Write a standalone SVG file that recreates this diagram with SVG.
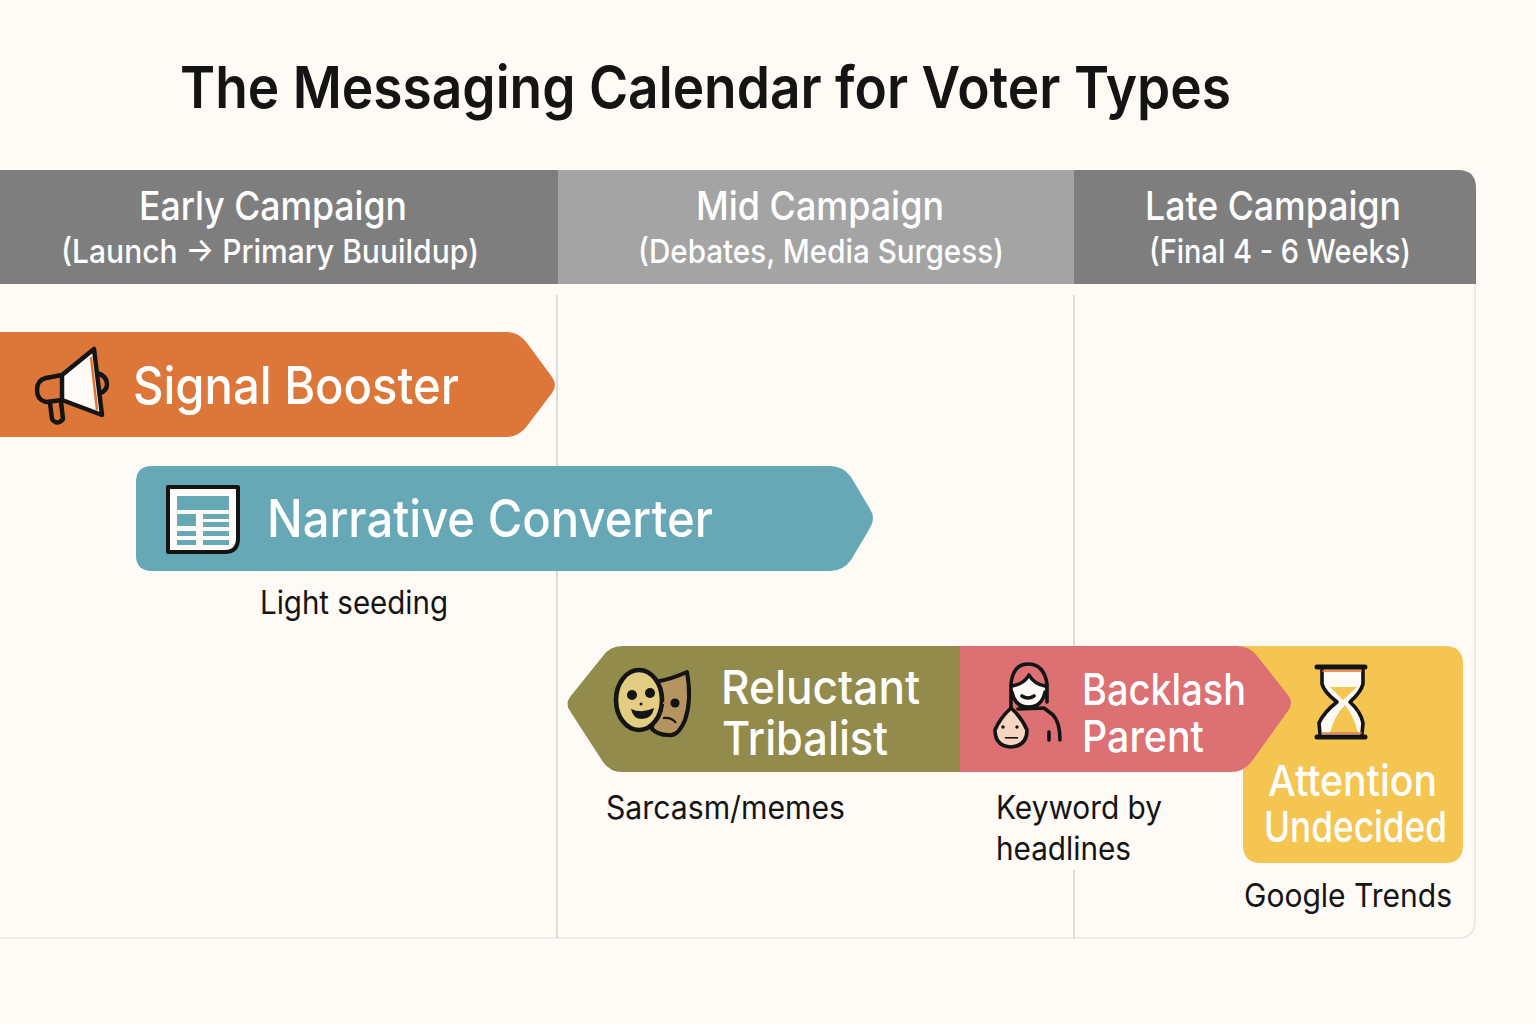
<svg xmlns="http://www.w3.org/2000/svg" width="1536" height="1024" viewBox="0 0 1536 1024">
<style>
text{font-family:Inter,"Liberation Sans",sans-serif}
.title{font-size:58px;font-weight:600;fill:#141414}
.h1{font-size:40px;font-weight:500;fill:#fff;text-anchor:middle}
.h2{font-size:33px;font-weight:500;fill:#fff;text-anchor:middle}
.lab{font-weight:500;fill:#fff}
.note{font-size:32px;fill:#141414}
.ln{fill:none;stroke:#141414;stroke-width:4.5;stroke-linecap:round;stroke-linejoin:round}
.grid{stroke:#bfbeba;stroke-width:1;fill:none}
</style>
<rect width="1536" height="1024" fill="#fefbf6"/>
<text class="title" x="180" y="108" textLength="1051" lengthAdjust="spacingAndGlyphs">The Messaging Calendar for Voter Types</text>

<g id="grid-frame">
<path d="M0 938H1458Q1475 938 1475 921V284" fill="none" stroke="#e2e0db" stroke-width="1.2"/>
<path class="grid" d="M557 295V938M1074 295V646M1074 870V938"/>
</g>

<g id="phase-early">
<rect x="0" y="170" width="558" height="114" fill="#7e7e7e"/>
<text class="h1" x="273" y="220" textLength="268" lengthAdjust="spacingAndGlyphs">Early Campaign</text>
<text class="h2" x="270" y="263" textLength="418" lengthAdjust="spacingAndGlyphs">(Launch → Primary Buuildup)</text>
</g>
<g id="phase-mid">
<rect x="558" y="170" width="516" height="114" fill="#a4a4a4"/>
<text class="h1" x="820" y="220" textLength="248" lengthAdjust="spacingAndGlyphs">Mid Campaign</text>
<text class="h2" x="821" y="263" textLength="366" lengthAdjust="spacingAndGlyphs">(Debates, Media Surgess)</text>
</g>
<g id="phase-late">
<path d="M1074 170H1458Q1476 170 1476 188V284H1074Z" fill="#7e7e7e"/>
<text class="h1" x="1273" y="220" textLength="256" lengthAdjust="spacingAndGlyphs">Late Campaign</text>
<text class="h2" x="1280" y="263" textLength="262" lengthAdjust="spacingAndGlyphs">(Final 4 - 6 Weeks)</text>
</g>

<g id="signal-booster">
<path d="M0 332H506Q519 332 527 343L552 377Q558 385 552 393L527 426Q519 437 506 437H0Z" fill="#dd7739"/>
<path d="M62 375L94 349L102 415L62 400Z" fill="#fefbf6"/>
<path d="M91 357L97 410" stroke="#dd7739" stroke-width="2.5"/>
<path class="ln" d="M62 375L94 349L102 415L62 400ZM62 375L46 378Q37 380 37 390Q37 400 46 402L62 400M97 373Q107 376 107 384Q107 391 100 393M50 403L52 419Q57 426 63 419L61 402"/>
<text class="lab" x="133" y="404" font-size="52" textLength="326" lengthAdjust="spacingAndGlyphs">Signal Booster</text>
</g>

<g id="narrative-converter">
<path d="M152 466H830Q843 466 851 477L870 509Q876 518 870 528L851 560Q843 571 830 571H152Q136 571 136 555V482Q136 466 152 466Z" fill="#66a8b5"/>
<path d="M168 487H238V538Q238 552 225 552H168Z" fill="#fefbf6" stroke="#141414" stroke-width="4" stroke-linejoin="round"/>
<g fill="#66a8b5">
<rect x="177" y="496" width="52" height="14"/>
<rect x="177" y="514" width="19" height="12"/>
<rect x="203" y="514" width="26" height="5"/>
<rect x="203" y="522" width="26" height="5"/>
<rect x="177" y="531" width="19" height="5"/>
<rect x="203" y="531" width="26" height="5"/>
<rect x="177" y="540" width="19" height="5"/>
<rect x="203" y="540" width="26" height="5"/>
</g>
<text class="lab" x="267" y="537" font-size="52" textLength="446" lengthAdjust="spacingAndGlyphs">Narrative Converter</text>
<text class="note" x="260" y="614" textLength="188" lengthAdjust="spacingAndGlyphs">Light seeding</text>
</g>

<g id="attention-undecided">
<path d="M1240 646H1445Q1463 646 1463 664V845Q1463 863 1445 863H1261Q1243 863 1243 845V760Z" fill="#f5c551"/>
<path d="M1322 670H1363V684Q1361 692 1350 702Q1361 712 1363 723V735H1319V723Q1324 712 1337 702Q1324 692 1322 684Z" fill="#fefbf6"/>
<path d="M1330 687H1357L1343 700ZM1330 733Q1334 716 1345 705Q1354 716 1358 733Z" fill="#f5c551"/>
<path class="ln" style="stroke-width:5" d="M1317 667H1365M1317 737H1365"/>
<path class="ln" style="stroke-width:3.6" d="M1322 670V684Q1324 692 1337 702Q1324 712 1319 723L1320 734M1363 670V684Q1361 692 1350 702Q1361 712 1363 723L1362 734"/>
<path d="M1322 671H1362M1321 733H1362" stroke="#e9702c" stroke-width="1.6"/>
<text class="lab" x="1268" y="796" font-size="43" textLength="169" lengthAdjust="spacingAndGlyphs">Attention</text>
<text class="lab" x="1264" y="842" font-size="43" textLength="183" lengthAdjust="spacingAndGlyphs">Undecided</text>
<text class="note" x="1244" y="907" textLength="208" lengthAdjust="spacingAndGlyphs">Google Trends</text>
</g>

<g id="reluctant-tribalist">
<path d="M962 646V772H622Q610 772 603 762L570 711Q565 704 570 697L603 656Q610 646 622 646Z" fill="#938b4b"/>
<path d="M655 682Q672 679 687 672Q692 700 685 720Q678 737 668 735Q658 735 652 729Z" fill="#b5945f" stroke="#141414" stroke-width="4" stroke-linejoin="round"/>
<ellipse cx="639" cy="700" rx="23" ry="30" fill="#e3cd83" stroke="#141414" stroke-width="4.6"/>
<g fill="#141414">
<circle cx="632" cy="695" r="5"/><circle cx="650" cy="693" r="5"/><circle cx="675" cy="703" r="4.6"/><circle cx="641" cy="704" r="1.5"/>
<path d="M631 709Q642 714 654 708Q652 719 642 719Q633 719 631 709Z"/>
</g>
<path d="M663 703H667" stroke="#dd7739" stroke-width="2"/>
<path d="M663 718Q672 717 676 723" fill="none" stroke="#141414" stroke-width="2.2"/>
<text class="lab" x="721" y="704" font-size="47" textLength="199" lengthAdjust="spacingAndGlyphs">Reluctant</text>
<text class="lab" x="722" y="755" font-size="47" textLength="166" lengthAdjust="spacingAndGlyphs">Tribalist</text>
<text class="note" x="606" y="819" textLength="239" lengthAdjust="spacingAndGlyphs">Sarcasm/memes</text>
</g>

<g id="backlash-parent">
<path d="M960 646H1237Q1250 646 1258 657L1288 695Q1294 703 1288 711L1252 761Q1244 772 1231 772H960Z" fill="#dc7072"/>
<path d="M1012 686Q1024 684 1029 675Q1034 684 1045 686V692Q1042 707 1028 707Q1014 707 1012 692Z" fill="#fefbf6"/>
<path class="ln" style="stroke-width:3.6" d="M1011 708V684Q1013 664 1028 664Q1044 664 1047 684V702M1012 686Q1024 684 1029 675Q1034 684 1045 686M1012 692Q1015 707 1028 707Q1042 707 1045 692M1022 696Q1028 700 1034 696M1018 709L1044 708L1053 715Q1060 722 1060 740M1049 732V740"/>
<path d="M1011 708Q1022 718 1027 730Q1027 746 1011 747Q995 746 995 730Q1000 718 1011 708Z" fill="#f8d5bf" stroke="#141414" stroke-width="3.6" stroke-linejoin="round"/>
<g fill="#141414"><circle cx="1003" cy="727" r="1.7"/><circle cx="1017" cy="727" r="1.7"/><rect x="1005" y="737" width="13" height="1.6"/></g>
<text class="lab" x="1082" y="705" font-size="44" textLength="164" lengthAdjust="spacingAndGlyphs">Backlash</text>
<text class="lab" x="1082" y="752" font-size="44" textLength="122" lengthAdjust="spacingAndGlyphs">Parent</text>
<text class="note" x="996" y="819" textLength="166" lengthAdjust="spacingAndGlyphs">Keyword by</text>
<text class="note" x="996" y="860" textLength="135" lengthAdjust="spacingAndGlyphs">headlines</text>
</g>
</svg>
